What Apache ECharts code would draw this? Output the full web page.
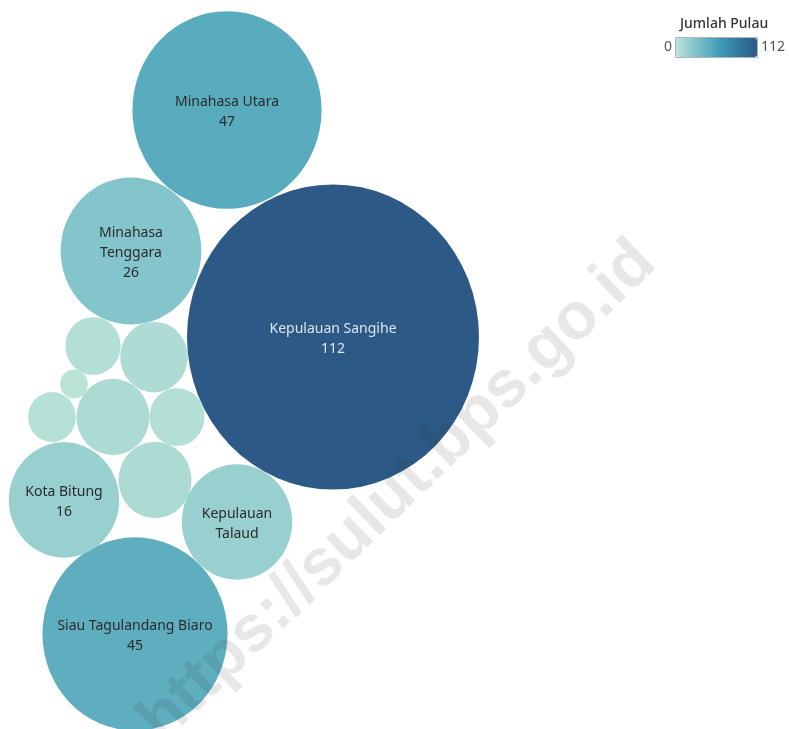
<!DOCTYPE html>
<html>
<head>
<meta charset="utf-8">
<script src="https://cdn.jsdelivr.net/npm/echarts@6/dist/echarts.min.js"></script>
<style>
  html, body { margin: 0; padding: 0; background: #fff; }
  #main { width: 789px; height: 729px; }
</style>
</head>
<body>
<div id="main"></div>
<script>
// data: jumlah pulau per kabupaten/kota
var kabupaten = ['Kepulauan Sangihe', 'Minahasa Utara', 'Siau Tagulandang Biaro', 'Minahasa Tenggara',
  'Kepulauan Talaud', 'Kota Bitung', 'Kota Manado', 'Minahasa Selatan', 'Bolaang Mongondow Utara',
  'Minahasa', 'Bolaang Mongondow', 'Bolaang Mongondow Selatan', 'Bolaang Mongondow Timur']
var jumlahPulau = [112, 47, 45, 26, 16, 16, 7, 7, 6, 4, 4, 3, 1]
var legendTicks = ['0', '112']

// packed layout (bubble centres, canvas units) - just layout, not data
var pusatX = [333, 227, 135, 131, 237, 64, 113, 155, 154, 93, 177, 52, 74]
var pusatY = [337, 110, 634, 251, 522, 500, 417, 480, 357, 346, 417, 417, 384]

// label text drawn inside bubble ('' = no label, like tableau hides them)
var labelTeks = ['Kepulauan Sangihe\n112', 'Minahasa Utara\n47', 'Siau Tagulandang Biaro\n45',
  'Minahasa\nTenggara\n26', 'Kepulauan\nTalaud', 'Kota Bitung\n16', '', '', '', '', '', '', '']

var blueTeal = ['#bce4d8', '#aedcd5', '#a1d5d2', '#95cecf', '#89c8cc', '#7ec1ca', '#72bac6', '#66b2c2',
  '#59acbe', '#4ba5ba', '#419eb6', '#3b96b2', '#358ead', '#3586a7', '#347ea1', '#32779b', '#316f96',
  '#2f6790', '#2d608a', '#2c5985']

var maxR = 146
var maxV = 112
var font = '"Noto Sans", sans-serif'

var myChart = echarts.init(document.getElementById('main'))

var seriesData = kabupaten.map(function (nama, i) {
  return {
    name: nama,
    value: [pusatX[i], pusatY[i], jumlahPulau[i]],
    label: {
      show: labelTeks[i] !== '',
      formatter: labelTeks[i],
      color: jumlahPulau[i] > 80 ? '#dce6f0' : '#2b2b2b'
    }
  }
})

var option = {
  animation: false,
  grid: { left: 0, right: 0, top: 0, bottom: 0 },
  xAxis: { type: 'value', min: 0, max: 789, show: false },
  yAxis: { type: 'value', min: 0, max: 729, inverse: true, show: false },
  visualMap: {
    type: 'continuous',
    dimension: 2,
    min: 0,
    max: maxV,
    orient: 'horizontal',
    left: 649,
    top: 23,
    itemWidth: 19,
    itemHeight: 81,
    text: [legendTicks[1], legendTicks[0]],
    textGap: 4,
    calculable: false,
    hoverLink: false,
    textStyle: { color: '#555', fontSize: 14, fontFamily: font },
    inRange: { color: blueTeal }
  },
  graphic: [
    {
      type: 'text',
      left: 680,
      top: 17,
      style: { text: 'Jumlah Pulau', fill: '#333', font: '500 14px ' + font }
    },
    {
      // thin frame round the colour ramp
      type: 'rect',
      shape: { x: 675.5, y: 37.5, width: 82, height: 20 },
      z: 50,
      silent: true,
      style: { fill: 'none', stroke: '#b4b4b4', lineWidth: 1 }
    },
    {
      type: 'text',
      x: 398,
      y: 492,
      rotation: 44 * Math.PI / 180,
      z: 100,
      silent: true,
      style: {
        text: 'https://sulut.bps.go.id',
        fill: 'rgba(60,60,60,0.12)',
        font: 'bold 66px "Liberation Sans", Arial, sans-serif',
        textAlign: 'center',
        textVerticalAlign: 'middle'
      }
    }
  ],
  series: [
    {
      type: 'scatter',
      symbol: 'circle',
      symbolSize: function (val) {
        var d = 2 * maxR * Math.sqrt(val[2] / maxV)
        return [d, d * 1.045]
      },
      itemStyle: { opacity: 1 },
      label: {
        show: true,
        position: 'inside',
        offset: [0, 2],
        fontSize: 14,
        fontFamily: font,
        lineHeight: 20,
        align: 'center'
      },
      emphasis: { disabled: true },
      data: seriesData
    }
  ]
}
myChart.setOption(option)
</script>
</body>
</html>
